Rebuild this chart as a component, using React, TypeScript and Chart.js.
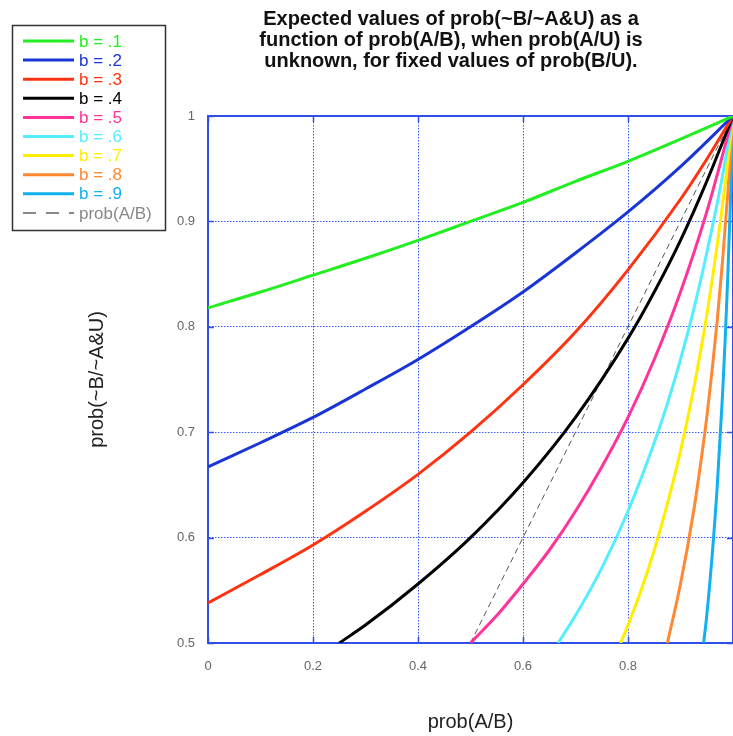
import React, { useEffect, useRef } from "react";
import { Chart, registerables } from "chart.js";

Chart.register(...registerables);

const TITLE_LINES = [
  "Expected values of prob(~B/~A&U) as a",
  "function of prob(A/B), when prob(A/U) is",
  "unknown, for fixed values of prob(B/U).",
];

const SERIES_LABELS = ["b = .1", "b = .2", "b = .3", "b = .4", "b = .5", "b = .6", "b = .7", "b = .8", "b = .9"];
const DIAG_LABEL = "prob(A/B)";

const X_B1 = [0, 0.1, 0.2, 0.3, 0.4, 0.5, 0.6, 0.7, 0.8, 0.9, 1];
const Y_B1 = [0.818, 0.833, 0.849, 0.865, 0.882, 0.9, 0.918, 0.938, 0.957, 0.978, 1];

const X_B2 = [0, 0.1, 0.2, 0.3, 0.4, 0.5, 0.6, 0.7, 0.8, 0.9, 1];
const Y_B2 = [0.667, 0.69, 0.714, 0.741, 0.769, 0.8, 0.833, 0.87, 0.909, 0.952, 1];

const X_B3 = [0, 0.1, 0.2, 0.3, 0.4, 0.5, 0.6, 0.7, 0.8, 0.9, 0.95, 1];
const Y_B3 = [0.538, 0.565, 0.593, 0.625, 0.66, 0.7, 0.745, 0.795, 0.854, 0.921, 0.959, 1];

const X_B4 = [0.25, 0.3, 0.4, 0.5, 0.6, 0.7, 0.8, 0.85, 0.9, 0.95, 1];
const Y_B4 = [0.5, 0.517, 0.556, 0.6, 0.652, 0.714, 0.789, 0.833, 0.882, 0.938, 1];

const X_B5 = [0.5, 0.55, 0.6, 0.65, 0.7, 0.75, 0.8, 0.85, 0.9, 0.95, 1];
const Y_B5 = [0.5, 0.526, 0.556, 0.588, 0.625, 0.667, 0.714, 0.769, 0.833, 0.909, 1];

const X_B6 = [0.667, 0.7, 0.75, 0.8, 0.85, 0.875, 0.9, 0.925, 0.95, 0.975, 1];
const Y_B6 = [0.5, 0.526, 0.571, 0.625, 0.69, 0.727, 0.769, 0.816, 0.87, 0.93, 1];

const X_B7 = [0.786, 0.8, 0.825, 0.85, 0.875, 0.9, 0.925, 0.95, 0.975, 0.9875, 1];
const Y_B7 = [0.5, 0.517, 0.55, 0.588, 0.632, 0.682, 0.741, 0.811, 0.896, 0.945, 1];

const X_B8 = [0.875, 0.9, 0.925, 0.94, 0.95, 0.96, 0.97, 0.98, 0.99, 1];
const Y_B8 = [0.5, 0.556, 0.625, 0.676, 0.714, 0.758, 0.806, 0.862, 0.926, 1];

const X_B9 = [0.944, 0.95, 0.96, 0.97, 0.98, 0.985, 0.99, 0.995, 1];
const Y_B9 = [0.5, 0.526, 0.581, 0.649, 0.735, 0.787, 0.847, 0.917, 1];

const X_DIAG = [0.5, 1];
const Y_DIAG = [0.5, 1];

const SERIES_X = [X_B1, X_B2, X_B3, X_B4, X_B5, X_B6, X_B7, X_B8, X_B9];
const SERIES_Y = [Y_B1, Y_B2, Y_B3, Y_B4, Y_B5, Y_B6, Y_B7, Y_B8, Y_B9];
const COLORS = ["#22ee22", "#1a35d6", "#ff3311", "#000000", "#ff3399", "#55eeff", "#ffee00", "#ff8833", "#11b0ee"];
const DIAG_COLOR = "#555555";

const Y_TICKS_MIN = 0.5;
const Y_TICKS_MAX = 1;
const X_TICK_STEP = 0.2;
const Y_TICK_STEP = 0.1;

const AXIS_BLUE = "#2f4fe8";
const GRID_BLUE = "#3a5cff";
const FONT = '"Liberation Sans", Arial, Helvetica, sans-serif';

const pairs = (xs: number[], ys: number[]) => xs.map((x, i) => ({ x, y: ys[i] }));

const titlePlugin = {
  id: "customTitle",
  afterDraw(chart: any) {
    const ctx = chart.ctx;
    ctx.save();
    ctx.font = `bold 20px ${FONT}`;
    ctx.fillStyle = "#111111";
    ctx.textAlign = "center";
    ctx.textBaseline = "middle";
    TITLE_LINES.forEach((t, i) => ctx.fillText(t, 451, 19 + i * 21));
    ctx.restore();
  },
};

const framePlugin = {
  id: "frame",
  beforeDatasetsDraw(chart: any) {
    const { ctx, chartArea, scales } = chart;
    const { left, right, top, bottom } = chartArea;
    ctx.save();
    ctx.strokeStyle = AXIS_BLUE;
    ctx.lineWidth = 2;
    ctx.beginPath();
    ctx.moveTo(left, top);
    ctx.lineTo(right, top);
    ctx.lineTo(right, bottom);
    ctx.stroke();
    // short solid tick marks inside the frame at each grid position
    ctx.lineWidth = 1.5;
    ctx.beginPath();
    scales.x.ticks.forEach((t: any) => {
      const px = Math.round(scales.x.getPixelForValue(t.value)) + 0.5;
      ctx.moveTo(px, bottom);
      ctx.lineTo(px, bottom - 6);
      ctx.moveTo(px, top);
      ctx.lineTo(px, top + 6);
    });
    scales.y.ticks.forEach((t: any) => {
      const py = Math.round(scales.y.getPixelForValue(t.value)) + 0.5;
      ctx.moveTo(left, py);
      ctx.lineTo(left + 6, py);
      ctx.moveTo(right, py);
      ctx.lineTo(right - 6, py);
    });
    ctx.stroke();
    ctx.restore();
  },
};

const legendPlugin = {
  id: "boxLegend",
  afterDraw(chart: any) {
    const ctx = chart.ctx;
    const datasets = chart.data.datasets;
    ctx.save();
    ctx.strokeStyle = "#333333";
    ctx.lineWidth = 1.5;
    ctx.strokeRect(12.5, 25.5, 153, 205);
    ctx.font = `17px ${FONT}`;
    ctx.textBaseline = "middle";
    ctx.textAlign = "left";
    datasets.forEach((ds: any, i: number) => {
      const y = 41 + i * 19.1;
      const dashed = ds.borderDash && ds.borderDash.length;
      ctx.beginPath();
      ctx.strokeStyle = dashed ? "#888888" : ds.borderColor;
      ctx.lineWidth = dashed ? 2 : 3;
      ctx.setLineDash(dashed ? [13, 10] : []);
      ctx.moveTo(23, y);
      ctx.lineTo(74, y);
      ctx.stroke();
      ctx.setLineDash([]);
      ctx.fillStyle = dashed ? "#888888" : ds.borderColor;
      ctx.fillText(ds.label, 79, y + 1);
    });
    ctx.restore();
  },
};

export default function App() {
  const ref = useRef<HTMLCanvasElement | null>(null);

  useEffect(() => {
    if (!ref.current) return;
    const datasets: any[] = SERIES_LABELS.map((label, i) => ({
      label,
      data: pairs(SERIES_X[i], SERIES_Y[i]),
      borderColor: COLORS[i],
      backgroundColor: COLORS[i],
      borderWidth: 3,
      pointRadius: 0,
      showLine: true,
      cubicInterpolationMode: "monotone",
      fill: false,
    }));
    datasets.push({
      label: DIAG_LABEL,
      data: pairs(X_DIAG, Y_DIAG),
      borderColor: DIAG_COLOR,
      backgroundColor: DIAG_COLOR,
      borderWidth: 1,
      borderDash: [6, 4],
      pointRadius: 0,
      showLine: true,
      fill: false,
    });

    const chart = new Chart(ref.current, {
      type: "scatter",
      data: { datasets },
      plugins: [framePlugin, titlePlugin, legendPlugin],
      options: {
        responsive: false,
        animation: false,
        layout: { padding: { top: 116, left: 0, right: 0, bottom: 0 } },
        plugins: {
          legend: { display: false },
          title: { display: false },
          tooltip: { enabled: false },
        },
        scales: {
          x: {
            type: "linear",
            min: 0,
            max: 1,
            afterFit: (s: any) => {
              s.height = 93;
              s.paddingLeft = 0;
              s.paddingRight = 0;
            },
            ticks: {
              stepSize: X_TICK_STEP,
              padding: 16,
              color: "#666666",
              font: { family: FONT, size: 13 },
              maxRotation: 0,
              callback: (v: any) => (v === 0 ? "0" : v >= 1 ? "" : Number(v).toFixed(1)),
            },
            grid: { color: GRID_BLUE, lineWidth: 1, drawTicks: false },
            border: { color: AXIS_BLUE, width: 2, dash: [1.5, 1.5] },
            title: {
              display: true,
              text: "prob(A/B)",
              color: "#222222",
              font: { family: FONT, size: 20 },
              padding: { top: 0, bottom: 2 },
            },
          },
          y: {
            type: "linear",
            min: Y_TICKS_MIN,
            max: Y_TICKS_MAX,
            afterFit: (s: any) => {
              s.width = 208;
              s.paddingTop = 0;
              s.paddingBottom = 0;
            },
            ticks: {
              stepSize: Y_TICK_STEP,
              padding: 13,
              color: "#666666",
              font: { family: FONT, size: 13 },
              callback: (v: any) => (v >= 1 ? "1" : Number(v).toFixed(1)),
            },
            grid: { color: GRID_BLUE, lineWidth: 1, drawTicks: false },
            border: { color: AXIS_BLUE, width: 2, dash: [1.5, 1.5] },
            title: {
              display: true,
              text: "prob(~B/~A&U)",
              color: "#222222",
              font: { family: FONT, size: 20 },
              padding: { top: 85, bottom: 0 },
            },
          },
        },
      } as any,
    });
    return () => chart.destroy();
  }, []);

  return (
    <div style={{ position: "absolute", left: 0, top: 0, width: 733, height: 736, background: "#ffffff" }}>
      <canvas ref={ref} width={733} height={736} style={{ display: "block" }} />
    </div>
  );
}
